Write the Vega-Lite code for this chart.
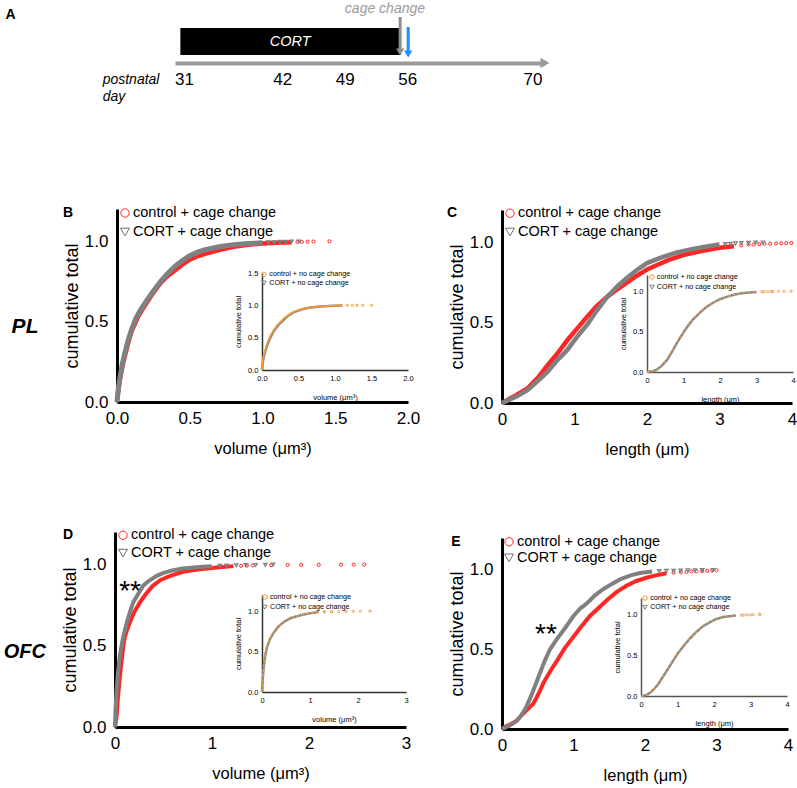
{
  "$schema": "https://vega.github.io/schema/vega-lite/v6.json",
  "width": 797,
  "height": 788,
  "autosize": {"type": "none"},
  "padding": 0,
  "config": {
    "view": {"stroke": null},
    "font": "Liberation Sans",
    "axis": {"grid": false, "ticks": false, "domainColor": "black", "labelColor": "black", "titleColor": "black", "titleFontWeight": "normal", "labelFlush": false, "labelOverlap": false, "labelBound": false, "labelFont": "Liberation Sans", "titleFont": "Liberation Sans"},
    "text": {"color": "black", "font": "Liberation Sans"}
  },
  "datasets": {
    "treatment": [{"label": "CORT", "start": 30.6, "end": 55.3}],
    "events": [{"event": "cage change", "day": 55.2}, {"event": "end", "day": 56.1}],
    "B": [
      {"group": "control", "x": 0, "y": 0}, {"group": "control", "x": 0.01, "y": 0.08}, {"group": "control", "x": 0.02, "y": 0.14}, {"group": "control", "x": 0.035, "y": 0.21}, {"group": "control", "x": 0.05, "y": 0.27}, {"group": "control", "x": 0.075, "y": 0.36}, {"group": "control", "x": 0.1, "y": 0.44}, {"group": "control", "x": 0.13, "y": 0.5}, {"group": "control", "x": 0.15, "y": 0.54}, {"group": "control", "x": 0.2, "y": 0.61}, {"group": "control", "x": 0.25, "y": 0.68}, {"group": "control", "x": 0.3, "y": 0.74}, {"group": "control", "x": 0.35, "y": 0.785}, {"group": "control", "x": 0.4, "y": 0.82}, {"group": "control", "x": 0.45, "y": 0.855}, {"group": "control", "x": 0.5, "y": 0.885}, {"group": "control", "x": 0.55, "y": 0.905}, {"group": "control", "x": 0.6, "y": 0.92}, {"group": "control", "x": 0.7, "y": 0.945}, {"group": "control", "x": 0.8, "y": 0.965}, {"group": "control", "x": 0.9, "y": 0.978}, {"group": "control", "x": 1.0, "y": 0.986}, {"group": "control", "x": 1.1, "y": 0.99}, {"group": "control", "x": 1.2, "y": 0.993},
      {"group": "control", "x": 1.24, "y": 0.995}, {"group": "control", "x": 1.27, "y": 0.996}, {"group": "control", "x": 1.31, "y": 0.997}, {"group": "control", "x": 1.35, "y": 0.998}, {"group": "control", "x": 1.46, "y": 0.999},
      {"group": "CORT", "x": 0, "y": 0}, {"group": "CORT", "x": 0.01, "y": 0.09}, {"group": "CORT", "x": 0.02, "y": 0.15}, {"group": "CORT", "x": 0.035, "y": 0.23}, {"group": "CORT", "x": 0.05, "y": 0.29}, {"group": "CORT", "x": 0.075, "y": 0.38}, {"group": "CORT", "x": 0.1, "y": 0.45}, {"group": "CORT", "x": 0.13, "y": 0.52}, {"group": "CORT", "x": 0.16, "y": 0.57}, {"group": "CORT", "x": 0.2, "y": 0.625}, {"group": "CORT", "x": 0.25, "y": 0.69}, {"group": "CORT", "x": 0.3, "y": 0.75}, {"group": "CORT", "x": 0.35, "y": 0.8}, {"group": "CORT", "x": 0.4, "y": 0.845}, {"group": "CORT", "x": 0.45, "y": 0.88}, {"group": "CORT", "x": 0.5, "y": 0.91}, {"group": "CORT", "x": 0.55, "y": 0.93}, {"group": "CORT", "x": 0.6, "y": 0.945}, {"group": "CORT", "x": 0.7, "y": 0.965}, {"group": "CORT", "x": 0.8, "y": 0.978}, {"group": "CORT", "x": 0.9, "y": 0.985}, {"group": "CORT", "x": 1.0, "y": 0.99},
      {"group": "CORT", "x": 1.04, "y": 0.992}, {"group": "CORT", "x": 1.08, "y": 0.993}, {"group": "CORT", "x": 1.12, "y": 0.995}, {"group": "CORT", "x": 1.16, "y": 0.996}, {"group": "CORT", "x": 1.2, "y": 0.997}, {"group": "CORT", "x": 1.25, "y": 0.998}
    ],
    "C": [
      {"group": "control", "x": 0, "y": 0}, {"group": "control", "x": 0.1, "y": 0.025}, {"group": "control", "x": 0.2, "y": 0.05}, {"group": "control", "x": 0.35, "y": 0.09}, {"group": "control", "x": 0.5, "y": 0.16}, {"group": "control", "x": 0.62, "y": 0.23}, {"group": "control", "x": 0.75, "y": 0.3}, {"group": "control", "x": 0.9, "y": 0.39}, {"group": "control", "x": 1.05, "y": 0.47}, {"group": "control", "x": 1.18, "y": 0.54}, {"group": "control", "x": 1.3, "y": 0.6}, {"group": "control", "x": 1.45, "y": 0.66}, {"group": "control", "x": 1.6, "y": 0.71}, {"group": "control", "x": 1.82, "y": 0.78}, {"group": "control", "x": 2.0, "y": 0.83}, {"group": "control", "x": 2.1, "y": 0.85}, {"group": "control", "x": 2.3, "y": 0.89}, {"group": "control", "x": 2.5, "y": 0.92}, {"group": "control", "x": 2.75, "y": 0.945}, {"group": "control", "x": 3.0, "y": 0.965}, {"group": "control", "x": 3.2, "y": 0.975},
      {"group": "control", "x": 3.3, "y": 0.98}, {"group": "control", "x": 3.4, "y": 0.985}, {"group": "control", "x": 3.47, "y": 0.985}, {"group": "control", "x": 3.55, "y": 0.988}, {"group": "control", "x": 3.62, "y": 0.99}, {"group": "control", "x": 3.7, "y": 0.99}, {"group": "control", "x": 3.78, "y": 0.992}, {"group": "control", "x": 3.85, "y": 0.993}, {"group": "control", "x": 3.92, "y": 0.994}, {"group": "control", "x": 3.99, "y": 0.995},
      {"group": "CORT", "x": 0, "y": 0}, {"group": "CORT", "x": 0.1, "y": 0.02}, {"group": "CORT", "x": 0.2, "y": 0.04}, {"group": "CORT", "x": 0.35, "y": 0.08}, {"group": "CORT", "x": 0.5, "y": 0.14}, {"group": "CORT", "x": 0.62, "y": 0.19}, {"group": "CORT", "x": 0.75, "y": 0.26}, {"group": "CORT", "x": 0.9, "y": 0.33}, {"group": "CORT", "x": 1.05, "y": 0.42}, {"group": "CORT", "x": 1.18, "y": 0.49}, {"group": "CORT", "x": 1.3, "y": 0.57}, {"group": "CORT", "x": 1.45, "y": 0.66}, {"group": "CORT", "x": 1.6, "y": 0.73}, {"group": "CORT", "x": 1.73, "y": 0.78}, {"group": "CORT", "x": 1.87, "y": 0.83}, {"group": "CORT", "x": 2.0, "y": 0.87}, {"group": "CORT", "x": 2.2, "y": 0.905}, {"group": "CORT", "x": 2.4, "y": 0.935}, {"group": "CORT", "x": 2.6, "y": 0.955}, {"group": "CORT", "x": 2.8, "y": 0.972}, {"group": "CORT", "x": 3.0, "y": 0.985},
      {"group": "CORT", "x": 3.08, "y": 0.988}, {"group": "CORT", "x": 3.15, "y": 0.99}, {"group": "CORT", "x": 3.22, "y": 0.992}, {"group": "CORT", "x": 3.3, "y": 0.994}, {"group": "CORT", "x": 3.4, "y": 0.995}, {"group": "CORT", "x": 3.5, "y": 0.997}, {"group": "CORT", "x": 3.6, "y": 0.998}
    ],
    "D": [
      {"group": "control", "x": 0, "y": 0}, {"group": "control", "x": 0.008, "y": 0.03}, {"group": "control", "x": 0.017, "y": 0.07}, {"group": "control", "x": 0.03, "y": 0.18}, {"group": "control", "x": 0.05, "y": 0.31}, {"group": "control", "x": 0.07, "y": 0.42}, {"group": "control", "x": 0.086, "y": 0.5}, {"group": "control", "x": 0.1, "y": 0.55}, {"group": "control", "x": 0.12, "y": 0.59}, {"group": "control", "x": 0.15, "y": 0.64}, {"group": "control", "x": 0.2, "y": 0.71}, {"group": "control", "x": 0.26, "y": 0.77}, {"group": "control", "x": 0.32, "y": 0.82}, {"group": "control", "x": 0.39, "y": 0.87}, {"group": "control", "x": 0.47, "y": 0.905}, {"group": "control", "x": 0.57, "y": 0.93}, {"group": "control", "x": 0.7, "y": 0.955}, {"group": "control", "x": 0.87, "y": 0.97}, {"group": "control", "x": 1.05, "y": 0.982}, {"group": "control", "x": 1.22, "y": 0.99},
      {"group": "control", "x": 1.3, "y": 0.992}, {"group": "control", "x": 1.36, "y": 0.994}, {"group": "control", "x": 1.42, "y": 0.995}, {"group": "control", "x": 1.61, "y": 0.996}, {"group": "control", "x": 1.78, "y": 0.997}, {"group": "control", "x": 1.92, "y": 0.998}, {"group": "control", "x": 2.1, "y": 0.998}, {"group": "control", "x": 2.33, "y": 0.999}, {"group": "control", "x": 2.46, "y": 0.999}, {"group": "control", "x": 2.57, "y": 1.0},
      {"group": "CORT", "x": 0, "y": 0}, {"group": "CORT", "x": 0.005, "y": 0.1}, {"group": "CORT", "x": 0.017, "y": 0.23}, {"group": "CORT", "x": 0.03, "y": 0.33}, {"group": "CORT", "x": 0.05, "y": 0.44}, {"group": "CORT", "x": 0.08, "y": 0.54}, {"group": "CORT", "x": 0.12, "y": 0.64}, {"group": "CORT", "x": 0.16, "y": 0.72}, {"group": "CORT", "x": 0.19, "y": 0.77}, {"group": "CORT", "x": 0.24, "y": 0.82}, {"group": "CORT", "x": 0.29, "y": 0.87}, {"group": "CORT", "x": 0.35, "y": 0.9}, {"group": "CORT", "x": 0.43, "y": 0.93}, {"group": "CORT", "x": 0.5, "y": 0.948}, {"group": "CORT", "x": 0.6, "y": 0.965}, {"group": "CORT", "x": 0.7, "y": 0.975}, {"group": "CORT", "x": 0.87, "y": 0.985}, {"group": "CORT", "x": 1.0, "y": 0.99},
      {"group": "CORT", "x": 1.08, "y": 0.992}, {"group": "CORT", "x": 1.15, "y": 0.993}, {"group": "CORT", "x": 1.25, "y": 0.995}, {"group": "CORT", "x": 1.35, "y": 0.996}, {"group": "CORT", "x": 1.45, "y": 0.997}, {"group": "CORT", "x": 1.55, "y": 0.998}, {"group": "CORT", "x": 1.63, "y": 0.999}
    ],
    "E": [
      {"group": "control", "x": 0, "y": 0}, {"group": "control", "x": 0.05, "y": 0.015}, {"group": "control", "x": 0.12, "y": 0.03}, {"group": "control", "x": 0.2, "y": 0.05}, {"group": "control", "x": 0.26, "y": 0.08}, {"group": "control", "x": 0.35, "y": 0.12}, {"group": "control", "x": 0.44, "y": 0.16}, {"group": "control", "x": 0.51, "y": 0.22}, {"group": "control", "x": 0.58, "y": 0.29}, {"group": "control", "x": 0.67, "y": 0.36}, {"group": "control", "x": 0.77, "y": 0.43}, {"group": "control", "x": 0.88, "y": 0.51}, {"group": "control", "x": 1.0, "y": 0.58}, {"group": "control", "x": 1.12, "y": 0.65}, {"group": "control", "x": 1.23, "y": 0.71}, {"group": "control", "x": 1.35, "y": 0.76}, {"group": "control", "x": 1.47, "y": 0.81}, {"group": "control", "x": 1.6, "y": 0.86}, {"group": "control", "x": 1.74, "y": 0.9}, {"group": "control", "x": 1.88, "y": 0.93}, {"group": "control", "x": 2.02, "y": 0.95}, {"group": "control", "x": 2.15, "y": 0.965}, {"group": "control", "x": 2.3, "y": 0.978},
      {"group": "control", "x": 2.4, "y": 0.982}, {"group": "control", "x": 2.5, "y": 0.985}, {"group": "control", "x": 2.58, "y": 0.987}, {"group": "control", "x": 2.65, "y": 0.99}, {"group": "control", "x": 2.72, "y": 0.99}, {"group": "control", "x": 2.8, "y": 0.992}, {"group": "control", "x": 2.87, "y": 0.994}, {"group": "control", "x": 2.94, "y": 0.996}, {"group": "control", "x": 3.0, "y": 0.997},
      {"group": "CORT", "x": 0, "y": 0}, {"group": "CORT", "x": 0.05, "y": 0.01}, {"group": "CORT", "x": 0.12, "y": 0.025}, {"group": "CORT", "x": 0.2, "y": 0.05}, {"group": "CORT", "x": 0.26, "y": 0.08}, {"group": "CORT", "x": 0.33, "y": 0.13}, {"group": "CORT", "x": 0.4, "y": 0.2}, {"group": "CORT", "x": 0.47, "y": 0.28}, {"group": "CORT", "x": 0.53, "y": 0.35}, {"group": "CORT", "x": 0.6, "y": 0.43}, {"group": "CORT", "x": 0.67, "y": 0.5}, {"group": "CORT", "x": 0.76, "y": 0.56}, {"group": "CORT", "x": 0.86, "y": 0.62}, {"group": "CORT", "x": 1.0, "y": 0.71}, {"group": "CORT", "x": 1.1, "y": 0.76}, {"group": "CORT", "x": 1.19, "y": 0.79}, {"group": "CORT", "x": 1.3, "y": 0.84}, {"group": "CORT", "x": 1.42, "y": 0.88}, {"group": "CORT", "x": 1.53, "y": 0.91}, {"group": "CORT", "x": 1.65, "y": 0.94}, {"group": "CORT", "x": 1.8, "y": 0.965}, {"group": "CORT", "x": 1.93, "y": 0.98}, {"group": "CORT", "x": 2.1, "y": 0.99},
      {"group": "CORT", "x": 2.2, "y": 0.992}, {"group": "CORT", "x": 2.3, "y": 0.993}, {"group": "CORT", "x": 2.4, "y": 0.994}, {"group": "CORT", "x": 2.5, "y": 0.995}, {"group": "CORT", "x": 2.6, "y": 0.996}, {"group": "CORT", "x": 2.7, "y": 0.997}, {"group": "CORT", "x": 2.8, "y": 0.998}, {"group": "CORT", "x": 2.95, "y": 0.999}
    ],
    "Bi": [
      {"group": "CORT", "x": 0, "y": 0}, {"group": "CORT", "x": 0.01, "y": 0.1}, {"group": "CORT", "x": 0.02, "y": 0.18}, {"group": "CORT", "x": 0.04, "y": 0.27}, {"group": "CORT", "x": 0.07, "y": 0.38}, {"group": "CORT", "x": 0.11, "y": 0.49}, {"group": "CORT", "x": 0.16, "y": 0.6}, {"group": "CORT", "x": 0.22, "y": 0.69}, {"group": "CORT", "x": 0.3, "y": 0.78}, {"group": "CORT", "x": 0.36, "y": 0.84}, {"group": "CORT", "x": 0.43, "y": 0.89}, {"group": "CORT", "x": 0.55, "y": 0.94}, {"group": "CORT", "x": 0.66, "y": 0.965}, {"group": "CORT", "x": 0.8, "y": 0.983}, {"group": "CORT", "x": 0.98, "y": 0.994}, {"group": "CORT", "x": 1.1, "y": 0.998},
      {"group": "control", "x": 0, "y": 0}, {"group": "control", "x": 0.01, "y": 0.12}, {"group": "control", "x": 0.02, "y": 0.21}, {"group": "control", "x": 0.04, "y": 0.3}, {"group": "control", "x": 0.07, "y": 0.41}, {"group": "control", "x": 0.11, "y": 0.52}, {"group": "control", "x": 0.16, "y": 0.62}, {"group": "control", "x": 0.22, "y": 0.71}, {"group": "control", "x": 0.3, "y": 0.8}, {"group": "control", "x": 0.36, "y": 0.85}, {"group": "control", "x": 0.43, "y": 0.9}, {"group": "control", "x": 0.55, "y": 0.945}, {"group": "control", "x": 0.66, "y": 0.97}, {"group": "control", "x": 0.8, "y": 0.985}, {"group": "control", "x": 0.98, "y": 0.995}, {"group": "control", "x": 1.1, "y": 1.0},
      {"group": "control", "x": 1.17, "y": 1.0}, {"group": "control", "x": 1.24, "y": 1.0}, {"group": "control", "x": 1.3, "y": 1.0}, {"group": "control", "x": 1.38, "y": 1.0}, {"group": "control", "x": 1.5, "y": 1.0}
    ],
    "Ci": [
      {"group": "CORT", "x": 0, "y": 0}, {"group": "CORT", "x": 0.15, "y": 0.01}, {"group": "CORT", "x": 0.27, "y": 0.03}, {"group": "CORT", "x": 0.4, "y": 0.075}, {"group": "CORT", "x": 0.55, "y": 0.15}, {"group": "CORT", "x": 0.7, "y": 0.26}, {"group": "CORT", "x": 0.82, "y": 0.36}, {"group": "CORT", "x": 1.0, "y": 0.49}, {"group": "CORT", "x": 1.09, "y": 0.55}, {"group": "CORT", "x": 1.25, "y": 0.645}, {"group": "CORT", "x": 1.45, "y": 0.735}, {"group": "CORT", "x": 1.62, "y": 0.8}, {"group": "CORT", "x": 1.82, "y": 0.86}, {"group": "CORT", "x": 2.0, "y": 0.9}, {"group": "CORT", "x": 2.18, "y": 0.93}, {"group": "CORT", "x": 2.4, "y": 0.958}, {"group": "CORT", "x": 2.64, "y": 0.978}, {"group": "CORT", "x": 3.0, "y": 0.99},
      {"group": "CORT", "x": 3.2, "y": 0.994}, {"group": "CORT", "x": 3.4, "y": 0.996},
      {"group": "control", "x": 0, "y": 0}, {"group": "control", "x": 0.15, "y": 0.01}, {"group": "control", "x": 0.27, "y": 0.03}, {"group": "control", "x": 0.4, "y": 0.08}, {"group": "control", "x": 0.55, "y": 0.16}, {"group": "control", "x": 0.7, "y": 0.27}, {"group": "control", "x": 0.82, "y": 0.37}, {"group": "control", "x": 1.0, "y": 0.5}, {"group": "control", "x": 1.09, "y": 0.56}, {"group": "control", "x": 1.25, "y": 0.65}, {"group": "control", "x": 1.45, "y": 0.74}, {"group": "control", "x": 1.62, "y": 0.8}, {"group": "control", "x": 1.82, "y": 0.86}, {"group": "control", "x": 2.0, "y": 0.9}, {"group": "control", "x": 2.18, "y": 0.93}, {"group": "control", "x": 2.4, "y": 0.96}, {"group": "control", "x": 2.64, "y": 0.98}, {"group": "control", "x": 3.0, "y": 0.99},
      {"group": "control", "x": 3.15, "y": 0.993}, {"group": "control", "x": 3.3, "y": 0.995}, {"group": "control", "x": 3.45, "y": 0.996}, {"group": "control", "x": 3.6, "y": 0.997}, {"group": "control", "x": 3.75, "y": 0.998}, {"group": "control", "x": 3.95, "y": 1.0}
    ],
    "Di": [
      {"group": "CORT", "x": 0, "y": 0}, {"group": "CORT", "x": 0.01, "y": 0.12}, {"group": "CORT", "x": 0.036, "y": 0.31}, {"group": "CORT", "x": 0.07, "y": 0.46}, {"group": "CORT", "x": 0.107, "y": 0.56}, {"group": "CORT", "x": 0.17, "y": 0.66}, {"group": "CORT", "x": 0.25, "y": 0.74}, {"group": "CORT", "x": 0.35, "y": 0.815}, {"group": "CORT", "x": 0.46, "y": 0.87}, {"group": "CORT", "x": 0.6, "y": 0.915}, {"group": "CORT", "x": 0.82, "y": 0.952}, {"group": "CORT", "x": 1.0, "y": 0.973}, {"group": "CORT", "x": 1.18, "y": 0.988},
      {"group": "CORT", "x": 1.3, "y": 0.992}, {"group": "CORT", "x": 1.45, "y": 0.995},
      {"group": "control", "x": 0, "y": 0}, {"group": "control", "x": 0.01, "y": 0.13}, {"group": "control", "x": 0.036, "y": 0.32}, {"group": "control", "x": 0.07, "y": 0.47}, {"group": "control", "x": 0.107, "y": 0.57}, {"group": "control", "x": 0.17, "y": 0.67}, {"group": "control", "x": 0.25, "y": 0.75}, {"group": "control", "x": 0.35, "y": 0.82}, {"group": "control", "x": 0.46, "y": 0.875}, {"group": "control", "x": 0.6, "y": 0.92}, {"group": "control", "x": 0.82, "y": 0.955}, {"group": "control", "x": 1.0, "y": 0.975}, {"group": "control", "x": 1.18, "y": 0.99},
      {"group": "control", "x": 1.3, "y": 0.993}, {"group": "control", "x": 1.45, "y": 0.995}, {"group": "control", "x": 1.6, "y": 0.996}, {"group": "control", "x": 1.75, "y": 0.997}, {"group": "control", "x": 1.9, "y": 0.998}, {"group": "control", "x": 2.05, "y": 0.999}, {"group": "control", "x": 2.25, "y": 1.0}
    ],
    "Ei": [
      {"group": "CORT", "x": 0, "y": 0}, {"group": "CORT", "x": 0.1, "y": 0.005}, {"group": "CORT", "x": 0.16, "y": 0.018}, {"group": "CORT", "x": 0.25, "y": 0.04}, {"group": "CORT", "x": 0.35, "y": 0.08}, {"group": "CORT", "x": 0.48, "y": 0.15}, {"group": "CORT", "x": 0.62, "y": 0.25}, {"group": "CORT", "x": 0.75, "y": 0.34}, {"group": "CORT", "x": 0.89, "y": 0.44}, {"group": "CORT", "x": 1.02, "y": 0.53}, {"group": "CORT", "x": 1.16, "y": 0.61}, {"group": "CORT", "x": 1.35, "y": 0.71}, {"group": "CORT", "x": 1.53, "y": 0.79}, {"group": "CORT", "x": 1.7, "y": 0.855}, {"group": "CORT", "x": 1.89, "y": 0.905}, {"group": "CORT", "x": 2.05, "y": 0.94}, {"group": "CORT", "x": 2.25, "y": 0.968}, {"group": "CORT", "x": 2.6, "y": 0.985},
      {"group": "CORT", "x": 2.8, "y": 0.99}, {"group": "CORT", "x": 3.0, "y": 0.994}, {"group": "CORT", "x": 3.25, "y": 0.998},
      {"group": "control", "x": 0, "y": 0}, {"group": "control", "x": 0.1, "y": 0.005}, {"group": "control", "x": 0.16, "y": 0.02}, {"group": "control", "x": 0.25, "y": 0.04}, {"group": "control", "x": 0.35, "y": 0.08}, {"group": "control", "x": 0.48, "y": 0.15}, {"group": "control", "x": 0.62, "y": 0.25}, {"group": "control", "x": 0.75, "y": 0.34}, {"group": "control", "x": 0.89, "y": 0.44}, {"group": "control", "x": 1.02, "y": 0.53}, {"group": "control", "x": 1.16, "y": 0.61}, {"group": "control", "x": 1.35, "y": 0.71}, {"group": "control", "x": 1.53, "y": 0.79}, {"group": "control", "x": 1.7, "y": 0.86}, {"group": "control", "x": 1.89, "y": 0.91}, {"group": "control", "x": 2.05, "y": 0.945}, {"group": "control", "x": 2.25, "y": 0.97}, {"group": "control", "x": 2.6, "y": 0.985},
      {"group": "control", "x": 2.75, "y": 0.99}, {"group": "control", "x": 2.9, "y": 0.993}, {"group": "control", "x": 3.07, "y": 0.995}, {"group": "control", "x": 3.25, "y": 1.0}
    ]
  },
  "layer": [
    {
      "layer": [
        {"data": {"name": "treatment"}, "mark": {"type": "rect", "color": "black"}, "encoding": {
          "x": {"field": "start", "type": "quantitative", "scale": {"domain": [30, 71.3], "range": [175, 544], "nice": false, "zero": false}, "axis": {"orient": "bottom", "offset": -725, "values": [31, 42, 49, 56, 70], "format": "d", "domainColor": "#9a9a9a", "domainWidth": 4, "labelFontSize": 17, "labelPadding": 8, "title": null}},
          "x2": {"field": "end"},
          "y": {"datum": 4.8, "type": "quantitative", "scale": {"domain": [0, 10], "range": [103, 3], "nice": false, "zero": false}, "axis": null},
          "y2": {"datum": 7.5}}},
        {"data": {"name": "treatment"}, "mark": {"type": "text", "color": "white", "fontStyle": "italic", "fontSize": 14.5, "baseline": "middle", "align": "center"}, "encoding": {"text": {"field": "label"}, "x": {"datum": 42.9, "type": "quantitative"}, "y": {"datum": 6.1, "type": "quantitative"}}},
        {"data": {"name": "events"}, "transform": [{"filter": "datum.event==='cage change'"}], "mark": {"type": "rule", "color": "#8f8f8f", "strokeWidth": 3}, "encoding": {"x": {"field": "day", "type": "quantitative"}, "y": {"datum": 8.6, "type": "quantitative"}, "y2": {"datum": 5.3}}},
        {"data": {"name": "events"}, "transform": [{"filter": "datum.event==='cage change'"}], "mark": {"type": "point", "shape": "triangle-down", "filled": true, "opacity": 1, "color": "#8f8f8f", "size": 70}, "encoding": {"x": {"field": "day", "type": "quantitative"}, "y": {"datum": 5.1, "type": "quantitative"}}},
        {"data": {"name": "events"}, "transform": [{"filter": "datum.event==='end'"}], "mark": {"type": "rule", "color": "#1e90ff", "strokeWidth": 3}, "encoding": {"x": {"field": "day", "type": "quantitative"}, "y": {"datum": 7.6, "type": "quantitative"}, "y2": {"datum": 5.1}}},
        {"data": {"name": "events"}, "transform": [{"filter": "datum.event==='end'"}], "mark": {"type": "point", "shape": "triangle-down", "filled": true, "opacity": 1, "color": "#1e90ff", "size": 70}, "encoding": {"x": {"field": "day", "type": "quantitative"}, "y": {"datum": 4.9, "type": "quantitative"}}},
        {"data": {"values": [{}]}, "mark": {"type": "point", "shape": "triangle-right", "filled": true, "opacity": 1, "color": "#9a9a9a", "size": 110}, "encoding": {"x": {"datum": 71.4, "type": "quantitative"}, "y": {"datum": 4.0, "type": "quantitative"}}},
        {"data": {"values": [{}]}, "mark": {"type": "text", "text": "cage change", "color": "#9a9a9a", "fontStyle": "italic", "fontSize": 14, "align": "center", "baseline": "middle"}, "encoding": {"x": {"datum": 53.5, "type": "quantitative"}, "y": {"datum": 9.4, "type": "quantitative"}}},
        {"data": {"values": [{}]}, "mark": {"type": "text", "text": "postnatal", "fontStyle": "italic", "fontSize": 14, "align": "left", "baseline": "middle"}, "encoding": {"x": {"datum": 21.9, "type": "quantitative"}, "y": {"datum": 2.3, "type": "quantitative"}}},
        {"data": {"values": [{}]}, "mark": {"type": "text", "text": "day", "fontStyle": "italic", "fontSize": 14, "align": "left", "baseline": "middle"}, "encoding": {"x": {"datum": 21.9, "type": "quantitative"}, "y": {"datum": 0.6, "type": "quantitative"}}},
        {"data": {"values": [{}]}, "mark": {"type": "text", "text": "A", "fontWeight": "bold", "fontSize": 14, "align": "center", "baseline": "middle"}, "encoding": {"x": {"datum": 11.6, "type": "quantitative"}, "y": {"datum": 8.8, "type": "quantitative"}}}
      ]
    },
    {
      "layer": [
        {"data": {"name": "B"}, "transform": [{"filter": "datum.group==='control' && datum.x<=1.2"}], "mark": {"type": "line", "color": "#ff2626", "strokeWidth": 4.5}, "encoding": {
          "x": {"field": "x", "type": "quantitative", "scale": {"domain": [0, 2], "range": [117, 408], "nice": false, "zero": false}, "axis": {"orient": "bottom", "offset": -386, "values": [0, 0.5, 1, 1.5, 2], "format": ".1f", "domainWidth": 3, "labelFontSize": 17, "labelPadding": 8, "title": "volume (μm³)", "titleFontSize": 16.5, "titlePadding": 14}},
          "y": {"field": "y", "type": "quantitative", "scale": {"domain": [0, 1.2], "range": [402, 209], "nice": false, "zero": false}, "axis": {"orient": "left", "offset": -117, "values": [0, 0.5, 1], "format": ".1f", "domainWidth": 3, "labelFontSize": 17, "labelPadding": 9, "title": "cumulative total", "titleFontSize": 18, "titlePadding": 3}}}},
        {"data": {"name": "B"}, "transform": [{"filter": "datum.group==='control' && datum.x>1.2"}], "mark": {"type": "point", "shape": "circle", "color": "#ff2626", "size": 10, "strokeWidth": 1, "opacity": 1}, "encoding": {"x": {"field": "x", "type": "quantitative"}, "y": {"field": "y", "type": "quantitative"}}},
        {"data": {"name": "B"}, "transform": [{"filter": "datum.group==='CORT' && datum.x<=1.0"}], "mark": {"type": "line", "color": "#808080", "strokeWidth": 5}, "encoding": {"x": {"field": "x", "type": "quantitative"}, "y": {"field": "y", "type": "quantitative"}}},
        {"data": {"name": "B"}, "transform": [{"filter": "datum.group==='CORT' && datum.x>1.0"}], "mark": {"type": "point", "shape": "triangle-down", "color": "#808080", "size": 12, "strokeWidth": 1.2, "opacity": 1}, "encoding": {"x": {"field": "x", "type": "quantitative"}, "y": {"field": "y", "type": "quantitative"}}},
        {"data": {"values": [{}]}, "mark": {"type": "point", "shape": "circle", "color": "#ff2626", "size": 70, "strokeWidth": 1, "opacity": 1}, "encoding": {"x": {"datum": 0.055, "type": "quantitative"}, "y": {"datum": 1.175, "type": "quantitative"}}},
        {"data": {"values": [{}]}, "mark": {"type": "point", "shape": "triangle-down", "color": "#707070", "size": 80, "strokeWidth": 1, "opacity": 1}, "encoding": {"x": {"datum": 0.055, "type": "quantitative"}, "y": {"datum": 1.057, "type": "quantitative"}}},
        {"data": {"values": [{}]}, "mark": {"type": "text", "text": "control + cage change", "color": "black", "fontSize": 14.5, "align": "left", "baseline": "middle"}, "encoding": {"x": {"datum": 0.11, "type": "quantitative"}, "y": {"datum": 1.175, "type": "quantitative"}}},
        {"data": {"values": [{}]}, "mark": {"type": "text", "text": "CORT + cage change", "color": "black", "fontSize": 14.5, "align": "left", "baseline": "middle"}, "encoding": {"x": {"datum": 0.11, "type": "quantitative"}, "y": {"datum": 1.057, "type": "quantitative"}}},
        {"data": {"values": [{}]}, "mark": {"type": "text", "text": "B", "fontWeight": "bold", "fontSize": 14, "align": "center", "baseline": "middle"}, "encoding": {"x": {"datum": -0.337, "type": "quantitative"}, "y": {"datum": 1.175, "type": "quantitative"}}},
        {"data": {"values": [{}]}, "mark": {"type": "text", "text": "PL", "fontWeight": "bold", "fontStyle": "italic", "fontSize": 21, "align": "center", "baseline": "middle"}, "encoding": {"x": {"datum": -0.632, "type": "quantitative"}, "y": {"datum": 0.466, "type": "quantitative"}}}
      ]
    },
    {
      "layer": [
        {"data": {"name": "Bi"}, "transform": [{"filter": "datum.group==='CORT'"}], "mark": {"type": "line", "color": "#8a8a8a", "strokeWidth": 2.5}, "encoding": {
          "x": {"field": "x", "type": "quantitative", "scale": {"domain": [0, 2], "range": [262, 408], "nice": false, "zero": false}, "axis": {"orient": "bottom", "offset": -418, "values": [0, 0.5, 1, 1.5, 2], "format": ".1f", "domainWidth": 1.5, "domainColor": "#333333", "labelFontSize": 7.5, "labelPadding": 4, "title": "volume (μm³)", "titleFontSize": 7.5, "titlePadding": 12}},
          "y": {"field": "y", "type": "quantitative", "scale": {"domain": [0, 1.5], "range": [370, 273], "nice": false, "zero": false}, "axis": {"orient": "left", "offset": -262, "values": [0, 0.5, 1, 1.5], "format": ".1f", "domainWidth": 1.5, "domainColor": "#333333", "labelFontSize": 7.5, "labelPadding": 4, "title": "cumulative total", "titleFontSize": 7.5, "titlePadding": 5}}}},
        {"data": {"name": "Bi"}, "transform": [{"filter": "datum.group==='control' && datum.x<=1.1"}], "mark": {"type": "line", "color": "#f59a2e", "strokeWidth": 1.6}, "encoding": {"x": {"field": "x", "type": "quantitative"}, "y": {"field": "y", "type": "quantitative"}}},
        {"data": {"name": "Bi"}, "transform": [{"filter": "datum.group==='control' && datum.x>1.1"}], "mark": {"type": "point", "shape": "circle", "color": "#f59a2e", "size": 5, "strokeWidth": 1, "opacity": 1}, "encoding": {"x": {"field": "x", "type": "quantitative"}, "y": {"field": "y", "type": "quantitative"}}},
        {"data": {"values": [{}]}, "mark": {"type": "point", "shape": "circle", "color": "#f59a2e", "size": 20, "strokeWidth": 1, "opacity": 1}, "encoding": {"x": {"datum": 0.027, "type": "quantitative"}, "y": {"datum": 1.48, "type": "quantitative"}}},
        {"data": {"values": [{}]}, "mark": {"type": "point", "shape": "triangle-down", "color": "#808080", "size": 20, "strokeWidth": 1, "opacity": 1}, "encoding": {"x": {"datum": 0.027, "type": "quantitative"}, "y": {"datum": 1.345, "type": "quantitative"}}},
        {"data": {"values": [{}]}, "mark": {"type": "text", "text": "control + no cage change", "color": "black", "fontSize": 7.2, "align": "left", "baseline": "middle"}, "encoding": {"x": {"datum": 0.1, "type": "quantitative"}, "y": {"datum": 1.48, "type": "quantitative"}}},
        {"data": {"values": [{}]}, "mark": {"type": "text", "text": "CORT + no cage change", "color": "black", "fontSize": 7.2, "align": "left", "baseline": "middle"}, "encoding": {"x": {"datum": 0.1, "type": "quantitative"}, "y": {"datum": 1.345, "type": "quantitative"}}}
      ]
    },
    {
      "layer": [
        {"data": {"name": "C"}, "transform": [{"filter": "datum.group==='control' && datum.x<=3.2"}], "mark": {"type": "line", "color": "#ff2626", "strokeWidth": 4.5}, "encoding": {
          "x": {"field": "x", "type": "quantitative", "scale": {"domain": [0, 4], "range": [502, 792], "nice": false, "zero": false}, "axis": {"orient": "bottom", "offset": -385, "values": [0, 1, 2, 3, 4], "format": "d", "domainWidth": 3, "labelFontSize": 17, "labelPadding": 8, "title": "length (μm)", "titleFontSize": 16.5, "titlePadding": 14}},
          "y": {"field": "y", "type": "quantitative", "scale": {"domain": [0, 1.2], "range": [403, 210], "nice": false, "zero": false}, "axis": {"orient": "left", "offset": -502, "values": [0, 0.5, 1], "format": ".1f", "domainWidth": 3, "labelFontSize": 17, "labelPadding": 9, "title": "cumulative total", "titleFontSize": 18, "titlePadding": 3}}}},
        {"data": {"name": "C"}, "transform": [{"filter": "datum.group==='control' && datum.x>3.2"}], "mark": {"type": "point", "shape": "circle", "color": "#ff2626", "size": 10, "strokeWidth": 1, "opacity": 1}, "encoding": {"x": {"field": "x", "type": "quantitative"}, "y": {"field": "y", "type": "quantitative"}}},
        {"data": {"name": "C"}, "transform": [{"filter": "datum.group==='CORT' && datum.x<=3.0"}], "mark": {"type": "line", "color": "#808080", "strokeWidth": 4.5}, "encoding": {"x": {"field": "x", "type": "quantitative"}, "y": {"field": "y", "type": "quantitative"}}},
        {"data": {"name": "C"}, "transform": [{"filter": "datum.group==='CORT' && datum.x>3.0"}], "mark": {"type": "point", "shape": "triangle-down", "color": "#808080", "size": 12, "strokeWidth": 1.2, "opacity": 1}, "encoding": {"x": {"field": "x", "type": "quantitative"}, "y": {"field": "y", "type": "quantitative"}}},
        {"data": {"values": [{}]}, "mark": {"type": "point", "shape": "circle", "color": "#ff2626", "size": 70, "strokeWidth": 1, "opacity": 1}, "encoding": {"x": {"datum": 0.11, "type": "quantitative"}, "y": {"datum": 1.18, "type": "quantitative"}}},
        {"data": {"values": [{}]}, "mark": {"type": "point", "shape": "triangle-down", "color": "#707070", "size": 80, "strokeWidth": 1, "opacity": 1}, "encoding": {"x": {"datum": 0.11, "type": "quantitative"}, "y": {"datum": 1.063, "type": "quantitative"}}},
        {"data": {"values": [{}]}, "mark": {"type": "text", "text": "control + cage change", "color": "black", "fontSize": 14.5, "align": "left", "baseline": "middle"}, "encoding": {"x": {"datum": 0.22, "type": "quantitative"}, "y": {"datum": 1.18, "type": "quantitative"}}},
        {"data": {"values": [{}]}, "mark": {"type": "text", "text": "CORT + cage change", "color": "black", "fontSize": 14.5, "align": "left", "baseline": "middle"}, "encoding": {"x": {"datum": 0.22, "type": "quantitative"}, "y": {"datum": 1.063, "type": "quantitative"}}},
        {"data": {"values": [{}]}, "mark": {"type": "text", "text": "C", "fontWeight": "bold", "fontSize": 14, "align": "center", "baseline": "middle"}, "encoding": {"x": {"datum": -0.69, "type": "quantitative"}, "y": {"datum": 1.18, "type": "quantitative"}}}
      ]
    },
    {
      "layer": [
        {"data": {"name": "Ci"}, "transform": [{"filter": "datum.group==='CORT' && datum.x<=3.0"}], "mark": {"type": "line", "color": "#8a8a8a", "strokeWidth": 2.5}, "encoding": {
          "x": {"field": "x", "type": "quantitative", "scale": {"domain": [0, 4], "range": [647, 793], "nice": false, "zero": false}, "axis": {"orient": "bottom", "offset": -416, "values": [0, 1, 2, 3, 4], "format": "d", "domainWidth": 1.5, "domainColor": "#555555", "labelFontSize": 7.5, "labelPadding": 4, "title": "length (μm)", "titleFontSize": 7.5, "titlePadding": 12}},
          "y": {"field": "y", "type": "quantitative", "scale": {"domain": [0, 1.2], "range": [372, 275], "nice": false, "zero": false}, "axis": {"orient": "left", "offset": -647, "values": [0, 0.5, 1], "format": ".1f", "domainWidth": 1.5, "domainColor": "#555555", "labelFontSize": 7.5, "labelPadding": 4, "title": "cumulative total", "titleFontSize": 7.5, "titlePadding": 5}}}},
        {"data": {"name": "Ci"}, "transform": [{"filter": "datum.group==='control' && datum.x<=3.0"}], "mark": {"type": "line", "color": "#f59a2e", "strokeWidth": 1.3, "strokeDash": [2, 3]}, "encoding": {"x": {"field": "x", "type": "quantitative"}, "y": {"field": "y", "type": "quantitative"}}},
        {"data": {"name": "Ci"}, "transform": [{"filter": "datum.x>3.0"}], "mark": {"type": "point", "shape": "circle", "color": "#f0a050", "size": 5, "strokeWidth": 1, "opacity": 1}, "encoding": {"x": {"field": "x", "type": "quantitative"}, "y": {"field": "y", "type": "quantitative"}}},
        {"data": {"values": [{}]}, "mark": {"type": "point", "shape": "circle", "color": "#f59a2e", "size": 20, "strokeWidth": 1, "opacity": 1}, "encoding": {"x": {"datum": 0.137, "type": "quantitative"}, "y": {"datum": 1.176, "type": "quantitative"}}},
        {"data": {"values": [{}]}, "mark": {"type": "point", "shape": "triangle-down", "color": "#808080", "size": 20, "strokeWidth": 1, "opacity": 1}, "encoding": {"x": {"datum": 0.137, "type": "quantitative"}, "y": {"datum": 1.05, "type": "quantitative"}}},
        {"data": {"values": [{}]}, "mark": {"type": "text", "text": "control + no cage change", "color": "black", "fontSize": 7.2, "align": "left", "baseline": "middle"}, "encoding": {"x": {"datum": 0.27, "type": "quantitative"}, "y": {"datum": 1.176, "type": "quantitative"}}},
        {"data": {"values": [{}]}, "mark": {"type": "text", "text": "CORT + no cage change", "color": "black", "fontSize": 7.2, "align": "left", "baseline": "middle"}, "encoding": {"x": {"datum": 0.27, "type": "quantitative"}, "y": {"datum": 1.05, "type": "quantitative"}}}
      ]
    },
    {
      "layer": [
        {"data": {"name": "D"}, "transform": [{"filter": "datum.group==='control' && datum.x<=1.22"}], "mark": {"type": "line", "color": "#ff2626", "strokeWidth": 4}, "encoding": {
          "x": {"field": "x", "type": "quantitative", "scale": {"domain": [0, 3], "range": [115, 406], "nice": false, "zero": false}, "axis": {"orient": "bottom", "offset": -61, "values": [0, 1, 2, 3], "format": "d", "domainWidth": 3, "labelFontSize": 17, "labelPadding": 8, "title": "volume (μm³)", "titleFontSize": 16.5, "titlePadding": 14}},
          "y": {"field": "y", "type": "quantitative", "scale": {"domain": [0, 1.2], "range": [727, 532], "nice": false, "zero": false}, "axis": {"orient": "left", "offset": -115, "values": [0, 0.5, 1], "format": ".1f", "domainWidth": 3, "labelFontSize": 17, "labelPadding": 9, "title": "cumulative total", "titleFontSize": 18, "titlePadding": 3}}}},
        {"data": {"name": "D"}, "transform": [{"filter": "datum.group==='control' && datum.x>1.22"}], "mark": {"type": "point", "shape": "circle", "color": "#ff2626", "size": 10, "strokeWidth": 1, "opacity": 1}, "encoding": {"x": {"field": "x", "type": "quantitative"}, "y": {"field": "y", "type": "quantitative"}}},
        {"data": {"name": "D"}, "transform": [{"filter": "datum.group==='CORT' && datum.x<=1.0"}], "mark": {"type": "line", "color": "#808080", "strokeWidth": 4}, "encoding": {"x": {"field": "x", "type": "quantitative"}, "y": {"field": "y", "type": "quantitative"}}},
        {"data": {"name": "D"}, "transform": [{"filter": "datum.group==='CORT' && datum.x>1.0"}], "mark": {"type": "point", "shape": "triangle-down", "color": "#808080", "size": 12, "strokeWidth": 1.2, "opacity": 1}, "encoding": {"x": {"field": "x", "type": "quantitative"}, "y": {"field": "y", "type": "quantitative"}}},
        {"data": {"values": [{}]}, "mark": {"type": "point", "shape": "circle", "color": "#ff2626", "size": 70, "strokeWidth": 1, "opacity": 1}, "encoding": {"x": {"datum": 0.082, "type": "quantitative"}, "y": {"datum": 1.18, "type": "quantitative"}}},
        {"data": {"values": [{}]}, "mark": {"type": "point", "shape": "triangle-down", "color": "#707070", "size": 80, "strokeWidth": 1, "opacity": 1}, "encoding": {"x": {"datum": 0.082, "type": "quantitative"}, "y": {"datum": 1.07, "type": "quantitative"}}},
        {"data": {"values": [{}]}, "mark": {"type": "text", "text": "control + cage change", "color": "black", "fontSize": 14.5, "align": "left", "baseline": "middle"}, "encoding": {"x": {"datum": 0.165, "type": "quantitative"}, "y": {"datum": 1.18, "type": "quantitative"}}},
        {"data": {"values": [{}]}, "mark": {"type": "text", "text": "CORT + cage change", "color": "black", "fontSize": 14.5, "align": "left", "baseline": "middle"}, "encoding": {"x": {"datum": 0.165, "type": "quantitative"}, "y": {"datum": 1.07, "type": "quantitative"}}},
        {"data": {"values": [{}]}, "mark": {"type": "text", "text": "D", "fontWeight": "bold", "fontSize": 14, "align": "center", "baseline": "middle"}, "encoding": {"x": {"datum": -0.485, "type": "quantitative"}, "y": {"datum": 1.18, "type": "quantitative"}}},
        {"data": {"values": [{}]}, "mark": {"type": "text", "text": "OFC", "fontWeight": "bold", "fontStyle": "italic", "fontSize": 20, "align": "center", "baseline": "middle"}, "encoding": {"x": {"datum": -0.93, "type": "quantitative"}, "y": {"datum": 0.46, "type": "quantitative"}}},
        {"data": {"values": [{}]}, "mark": {"type": "text", "text": "**", "fontSize": 28, "align": "center", "baseline": "middle"}, "encoding": {"x": {"datum": 0.155, "type": "quantitative"}, "y": {"datum": 0.83, "type": "quantitative"}}}
      ]
    },
    {
      "layer": [
        {"data": {"name": "Di"}, "transform": [{"filter": "datum.group==='CORT' && datum.x<=1.18"}], "mark": {"type": "line", "color": "#8a8a8a", "strokeWidth": 2.5}, "encoding": {
          "x": {"field": "x", "type": "quantitative", "scale": {"domain": [0, 3], "range": [262, 406], "nice": false, "zero": false}, "axis": {"orient": "bottom", "offset": -96, "values": [0, 1, 2, 3], "format": "d", "domainWidth": 1.5, "domainColor": "#333333", "labelFontSize": 7.5, "labelPadding": 4, "title": "volume (μm³)", "titleFontSize": 7.5, "titlePadding": 12}},
          "y": {"field": "y", "type": "quantitative", "scale": {"domain": [0, 1.2], "range": [692, 595], "nice": false, "zero": false}, "axis": {"orient": "left", "offset": -262, "values": [0, 0.5, 1], "format": ".1f", "domainWidth": 1.5, "domainColor": "#333333", "labelFontSize": 7.5, "labelPadding": 4, "title": "cumulative total", "titleFontSize": 7.5, "titlePadding": 5}}}},
        {"data": {"name": "Di"}, "transform": [{"filter": "datum.group==='control' && datum.x<=1.18"}], "mark": {"type": "line", "color": "#f59a2e", "strokeWidth": 1.3, "strokeDash": [3, 2]}, "encoding": {"x": {"field": "x", "type": "quantitative"}, "y": {"field": "y", "type": "quantitative"}}},
        {"data": {"name": "Di"}, "transform": [{"filter": "datum.x>1.18"}], "mark": {"type": "point", "shape": "circle", "color": "#f0a050", "size": 5, "strokeWidth": 1, "opacity": 1}, "encoding": {"x": {"field": "x", "type": "quantitative"}, "y": {"field": "y", "type": "quantitative"}}},
        {"data": {"values": [{}]}, "mark": {"type": "point", "shape": "circle", "color": "#f59a2e", "size": 20, "strokeWidth": 1, "opacity": 1}, "encoding": {"x": {"datum": 0.06, "type": "quantitative"}, "y": {"datum": 1.176, "type": "quantitative"}}},
        {"data": {"values": [{}]}, "mark": {"type": "point", "shape": "triangle-down", "color": "#808080", "size": 20, "strokeWidth": 1, "opacity": 1}, "encoding": {"x": {"datum": 0.06, "type": "quantitative"}, "y": {"datum": 1.05, "type": "quantitative"}}},
        {"data": {"values": [{}]}, "mark": {"type": "text", "text": "control + no cage change", "color": "black", "fontSize": 7.2, "align": "left", "baseline": "middle"}, "encoding": {"x": {"datum": 0.167, "type": "quantitative"}, "y": {"datum": 1.176, "type": "quantitative"}}},
        {"data": {"values": [{}]}, "mark": {"type": "text", "text": "CORT + no cage change", "color": "black", "fontSize": 7.2, "align": "left", "baseline": "middle"}, "encoding": {"x": {"datum": 0.167, "type": "quantitative"}, "y": {"datum": 1.05, "type": "quantitative"}}}
      ]
    },
    {
      "layer": [
        {"data": {"name": "E"}, "transform": [{"filter": "datum.group==='control' && datum.x<=2.3"}], "mark": {"type": "line", "color": "#ff2626", "strokeWidth": 4}, "encoding": {
          "x": {"field": "x", "type": "quantitative", "scale": {"domain": [0, 4], "range": [502, 788], "nice": false, "zero": false}, "axis": {"orient": "bottom", "offset": -59, "values": [0, 1, 2, 3, 4], "format": "d", "domainWidth": 3, "labelFontSize": 17, "labelPadding": 8, "title": "length (μm)", "titleFontSize": 16.5, "titlePadding": 14}},
          "y": {"field": "y", "type": "quantitative", "scale": {"domain": [0, 1.2], "range": [729, 538], "nice": false, "zero": false}, "axis": {"orient": "left", "offset": -502, "values": [0, 0.5, 1], "format": ".1f", "domainWidth": 3, "labelFontSize": 17, "labelPadding": 9, "title": "cumulative total", "titleFontSize": 18, "titlePadding": 3}}}},
        {"data": {"name": "E"}, "transform": [{"filter": "datum.group==='control' && datum.x>2.3"}], "mark": {"type": "point", "shape": "circle", "color": "#ff2626", "size": 10, "strokeWidth": 1, "opacity": 1}, "encoding": {"x": {"field": "x", "type": "quantitative"}, "y": {"field": "y", "type": "quantitative"}}},
        {"data": {"name": "E"}, "transform": [{"filter": "datum.group==='CORT' && datum.x<=2.1"}], "mark": {"type": "line", "color": "#808080", "strokeWidth": 4}, "encoding": {"x": {"field": "x", "type": "quantitative"}, "y": {"field": "y", "type": "quantitative"}}},
        {"data": {"name": "E"}, "transform": [{"filter": "datum.group==='CORT' && datum.x>2.1"}], "mark": {"type": "point", "shape": "triangle-down", "color": "#808080", "size": 12, "strokeWidth": 1.2, "opacity": 1}, "encoding": {"x": {"field": "x", "type": "quantitative"}, "y": {"field": "y", "type": "quantitative"}}},
        {"data": {"values": [{}]}, "mark": {"type": "point", "shape": "circle", "color": "#ff2626", "size": 70, "strokeWidth": 1, "opacity": 1}, "encoding": {"x": {"datum": 0.098, "type": "quantitative"}, "y": {"datum": 1.176, "type": "quantitative"}}},
        {"data": {"values": [{}]}, "mark": {"type": "point", "shape": "triangle-down", "color": "#707070", "size": 80, "strokeWidth": 1, "opacity": 1}, "encoding": {"x": {"datum": 0.098, "type": "quantitative"}, "y": {"datum": 1.075, "type": "quantitative"}}},
        {"data": {"values": [{}]}, "mark": {"type": "text", "text": "control + cage change", "color": "black", "fontSize": 14.5, "align": "left", "baseline": "middle"}, "encoding": {"x": {"datum": 0.21, "type": "quantitative"}, "y": {"datum": 1.176, "type": "quantitative"}}},
        {"data": {"values": [{}]}, "mark": {"type": "text", "text": "CORT + cage change", "color": "black", "fontSize": 14.5, "align": "left", "baseline": "middle"}, "encoding": {"x": {"datum": 0.21, "type": "quantitative"}, "y": {"datum": 1.075, "type": "quantitative"}}},
        {"data": {"values": [{}]}, "mark": {"type": "text", "text": "E", "fontWeight": "bold", "fontSize": 14, "align": "center", "baseline": "middle"}, "encoding": {"x": {"datum": -0.643, "type": "quantitative"}, "y": {"datum": 1.176, "type": "quantitative"}}},
        {"data": {"values": [{}]}, "mark": {"type": "text", "text": "**", "fontSize": 28, "align": "center", "baseline": "middle"}, "encoding": {"x": {"datum": 0.615, "type": "quantitative"}, "y": {"datum": 0.59, "type": "quantitative"}}}
      ]
    },
    {
      "layer": [
        {"data": {"name": "Ei"}, "transform": [{"filter": "datum.group==='CORT' && datum.x<=2.6"}], "mark": {"type": "line", "color": "#8a8a8a", "strokeWidth": 2.5}, "encoding": {
          "x": {"field": "x", "type": "quantitative", "scale": {"domain": [0, 4], "range": [641, 787], "nice": false, "zero": false}, "axis": {"orient": "bottom", "offset": -92, "values": [0, 1, 2, 3, 4], "format": "d", "domainWidth": 1.5, "domainColor": "#555555", "labelFontSize": 7.5, "labelPadding": 4, "title": "length (μm)", "titleFontSize": 7.5, "titlePadding": 12}},
          "y": {"field": "y", "type": "quantitative", "scale": {"domain": [0, 1.2], "range": [696, 598], "nice": false, "zero": false}, "axis": {"orient": "left", "offset": -641, "values": [0, 0.5, 1], "format": ".1f", "domainWidth": 1.5, "domainColor": "#555555", "labelFontSize": 7.5, "labelPadding": 4, "title": "cumulative total", "titleFontSize": 7.5, "titlePadding": 5}}}},
        {"data": {"name": "Ei"}, "transform": [{"filter": "datum.group==='control' && datum.x<=2.6"}], "mark": {"type": "line", "color": "#f59a2e", "strokeWidth": 1.3, "strokeDash": [2, 3]}, "encoding": {"x": {"field": "x", "type": "quantitative"}, "y": {"field": "y", "type": "quantitative"}}},
        {"data": {"name": "Ei"}, "transform": [{"filter": "datum.x>2.6"}], "mark": {"type": "point", "shape": "circle", "color": "#f0a050", "size": 5, "strokeWidth": 1, "opacity": 1}, "encoding": {"x": {"field": "x", "type": "quantitative"}, "y": {"field": "y", "type": "quantitative"}}},
        {"data": {"values": [{}]}, "mark": {"type": "point", "shape": "circle", "color": "#f59a2e", "size": 20, "strokeWidth": 1, "opacity": 1}, "encoding": {"x": {"datum": 0.11, "type": "quantitative"}, "y": {"datum": 1.2, "type": "quantitative"}}},
        {"data": {"values": [{}]}, "mark": {"type": "point", "shape": "triangle-down", "color": "#808080", "size": 20, "strokeWidth": 1, "opacity": 1}, "encoding": {"x": {"datum": 0.11, "type": "quantitative"}, "y": {"datum": 1.086, "type": "quantitative"}}},
        {"data": {"values": [{}]}, "mark": {"type": "text", "text": "control + no cage change", "color": "black", "fontSize": 7.2, "align": "left", "baseline": "middle"}, "encoding": {"x": {"datum": 0.25, "type": "quantitative"}, "y": {"datum": 1.2, "type": "quantitative"}}},
        {"data": {"values": [{}]}, "mark": {"type": "text", "text": "CORT + no cage change", "color": "black", "fontSize": 7.2, "align": "left", "baseline": "middle"}, "encoding": {"x": {"datum": 0.25, "type": "quantitative"}, "y": {"datum": 1.086, "type": "quantitative"}}}
      ]
    }
  ],
  "resolve": {"scale": {"x": "independent", "y": "independent"}, "axis": {"x": "independent", "y": "independent"}}
}
